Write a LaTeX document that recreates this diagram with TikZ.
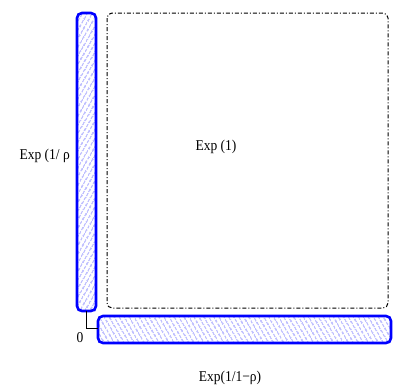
\documentclass[tikz,border=0pt]{standalone}
\usepackage{fontspec}
\setmainfont{Liberation Serif}
\usetikzlibrary{patterns.meta}
\begin{document}
\begin{tikzpicture}[x=1pt,y=-1pt,
  bar/.style={draw=blue, line width=2.6pt, rounded corners=5pt},
  hatch/.style={pattern color=blue!70},
  lbl/.style={font=\fontsize{15}{17}\selectfont, inner sep=0pt, xscale=0.9}]
\useasboundingbox (0,0) rectangle (394,386);
% dash-dot square
\draw[line width=1pt, dash pattern=on 4pt off 2pt on 1pt off 2pt, rounded corners=5pt] (107,13) rectangle (388,308);
% left bar
\fill[hatch, pattern={Lines[angle=60,distance=4pt,line width=0.9pt]}] (77,13) rectangle (96,311);
\draw[bar] (77,13) rectangle (96,311);
\node[coordinate] (lb) at (86.5,311) {};
% bottom bar
\fill[hatch, pattern={Lines[angle=-60,distance=4pt,line width=0.9pt]}] (98,316) rectangle (391,343);
\draw[bar] (98,316) rectangle (391,343);
\node[coordinate] (bb) at (98,328) {};
\draw[line width=0.8pt] (lb) |- (bb);
% labels
\node[lbl] (zero) at (80,338) {0};
\node[lbl, anchor=east] (lr) at (70,156) {Exp (1/ ρ};
\node[lbl] (mid) at (216,147) {Exp (1)};
\node[lbl] (bot) at (230,378) {Exp(1/1−ρ)};
\end{tikzpicture}
\end{document}
